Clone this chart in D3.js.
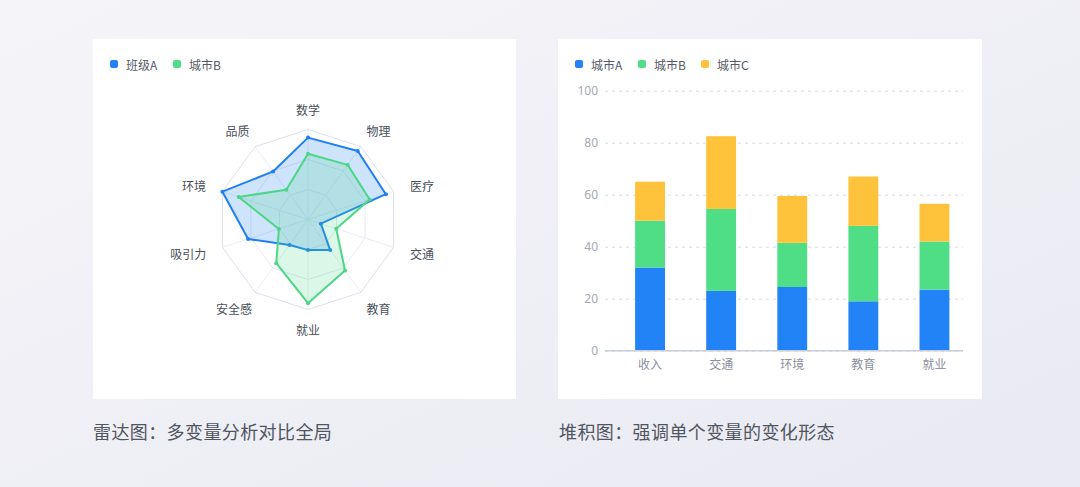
<!DOCTYPE html>
<html>
<head>
<meta charset="utf-8">
<script src="https://cdn.jsdelivr.net/npm/d3@7"></script>
<style>
  html, body { margin: 0; padding: 0; }
  body { width: 1080px; height: 487px; overflow: hidden; }
  text { font-family: "Noto Sans CJK SC", "Noto Sans", sans-serif; }
</style>
</head>
<body>
<svg id="chart" width="1080" height="487"></svg>
<script>
// radar data
const radarAxes = ['数学', '物理', '医疗', '交通', '教育', '就业', '安全感', '吸引力', '环境', '品质']
const radarSeriesNames = ['班级A', '城市B']
const classA = [91, 94, 91, 15, 42, 34, 35, 70, 100, 66]
const cityB = [73, 75, 72, 33, 70, 93, 60, 34, 81, 41]

// stacked bar data
const barCategories = ['收入', '交通', '环境', '教育', '就业']
const barSeriesNames = ['城市A', '城市B', '城市C']
const cityA = [32, 23, 24.5, 19, 23.5]
const cityBBar = [18, 31.5, 17, 29, 18.5]
const cityC = [15, 28, 18, 19, 14.5]
const yTicks = [0, 20, 40, 60, 80, 100]

const captions = ['雷达图：多变量分析对比全局', '堆积图：强调单个变量的变化形态']

const blue = '#2183f6', green = '#4fdd86', yellow = '#ffc23b'

const svg = d3.select('#chart')

// background
const defs = svg.append('defs')
const grad = defs.append('linearGradient').attr('id', 'bg')
    .attr('x1', '0').attr('y1', '0').attr('x2', '1').attr('y2', '1')
grad.append('stop').attr('offset', '0%').attr('stop-color', '#f5f5f9')
grad.append('stop').attr('offset', '100%').attr('stop-color', '#e9e9f2')
svg.append('rect').attr('width', 1080).attr('height', 487).attr('fill', 'url(#bg)')

// panels
svg.append('rect').attr('x', 93).attr('y', 39).attr('width', 423).attr('height', 360).attr('fill', '#fff')
svg.append('rect').attr('x', 558).attr('y', 39).attr('width', 424).attr('height', 360).attr('fill', '#fff')

svg.selectAll('text.caption')
    .data(captions)
    .enter()
    .append('text')
    .attr('class', 'caption')
    .attr('x', (d, i) => i === 0 ? 93 : 559)
    .attr('y', 431)
    .attr('dominant-baseline', 'central')
    .style('font-size', '18px')
    .style('letter-spacing', '0.4px')
    .style('fill', '#50555f')
    .text(d => d)

function legend(g, names, colors, xs) {
    const item = g.selectAll('g').data(names).enter().append('g')
        .attr('transform', (d, i) => 'translate(' + xs[i] + ',64)')
    item.append('rect')
        .attr('x', -4).attr('y', -4).attr('width', 8).attr('height', 8).attr('rx', 2)
        .style('fill', (d, i) => colors[i])
    item.append('text')
        .attr('x', 12).attr('dominant-baseline', 'central')
        .style('font-size', '12px').style('fill', '#555a66')
        .text(d => d)
}

// ---------- radar ----------
const cx = 308, cy = 219.5, R = 90
const n = radarAxes.length
const rScale = d3.scaleLinear().domain([0, 100]).range([0, R])
const angle = i => i * 2 * Math.PI / n
const radial = d3.lineRadial().angle((d, i) => angle(i)).radius(d => rScale(d)).curve(d3.curveLinearClosed)

const radar = svg.append('g').attr('transform', 'translate(' + cx + ',' + cy + ')')

// rings
const rings = [100 / 3, 200 / 3, 100]
radar.selectAll('path.ring')
    .data(rings)
    .enter()
    .append('path')
    .attr('class', 'ring')
    .attr('d', v => radial(radarAxes.map(() => v)))
    .style('fill', 'none')
    .style('stroke', (v, i) => i === 2 ? '#dbe0ed' : '#e6e9f2')
    .style('stroke-width', 1)

// spokes
radar.selectAll('line.spoke')
    .data(radarAxes)
    .enter()
    .append('line')
    .attr('x2', (d, i) => rScale(100) * Math.sin(angle(i)))
    .attr('y2', (d, i) => -rScale(100) * Math.cos(angle(i)))
    .style('stroke', '#eaedf4')
    .style('stroke-width', 1)

// axis names
const fontPx = 12
radar.selectAll('text.axisName')
    .data(radarAxes)
    .enter()
    .append('text')
    .attr('class', 'axisName')
    .attr('x', (d, i) => {
        const s = Math.sin(angle(i))
        return s * (R + 12) + s * (d.length * fontPx / 2 + 6)
    })
    .attr('y', (d, i) => {
        const c = Math.cos(angle(i))
        return -c * (R + 12) - c * 8
    })
    .attr('text-anchor', 'middle')
    .attr('dominant-baseline', 'central')
    .style('font-size', fontPx + 'px')
    .style('fill', '#4a4f5b')
    .text(d => d)

const series = [
    { name: radarSeriesNames[0], values: classA, color: '#1f7ff2', fill: 'rgba(33,126,242,0.22)' },
    { name: radarSeriesNames[1], values: cityB, color: '#4cd686', fill: 'rgba(76,214,134,0.2)' }
]

const sG = radar.selectAll('g.series').data(series).enter().append('g').attr('class', 'series')
sG.append('path')
    .attr('d', d => radial(d.values))
    .style('fill', d => d.fill)
    .style('stroke', d => d.color)
    .style('stroke-width', 2)
    .style('stroke-linejoin', 'round')
sG.selectAll('circle')
    .data(d => d.values.map(v => ({ v: v, color: d.color })))
    .enter()
    .append('circle')
    .attr('cx', (d, i) => rScale(d.v) * Math.sin(angle(i)))
    .attr('cy', (d, i) => -rScale(d.v) * Math.cos(angle(i)))
    .attr('r', 2)
    .style('fill', d => d.color)

legend(svg.append('g'), radarSeriesNames, [blue, green], [114, 177])

// ---------- stacked bars ----------
const y = d3.scaleLinear().domain([0, 100]).range([350.7, 90.7])
const x = d3.scaleBand().domain(barCategories).range([614.5, 970]).paddingInner(0.58).paddingOuter(0.29)
const gridX0 = 605, gridX1 = 963

const yAxis = svg.append('g')
    .attr('transform', 'translate(' + gridX0 + ',0)')
    .call(d3.axisLeft(y).tickValues(yTicks).tickSize(-(gridX1 - gridX0)).tickPadding(7))
yAxis.select('.domain').remove()
yAxis.selectAll('.tick line')
    .style('stroke', '#d8dbe3')
    .style('stroke-dasharray', '3,4')
yAxis.selectAll('.tick text')
    .style('font-size', '12px')
    .style('fill', '#a4a9b6')
    .style('font-family', '"Noto Sans", sans-serif')

const rows = barCategories.map((c, i) => ({ cat: c, A: cityA[i], B: cityBBar[i], C: cityC[i] }))
const stacked = d3.stack().keys(['A', 'B', 'C'])(rows)
const barColors = [blue, green, yellow]

svg.append('g').selectAll('g')
    .data(stacked)
    .enter()
    .append('g')
    .style('fill', (d, i) => barColors[i])
    .selectAll('rect')
    .data(d => d)
    .enter()
    .append('rect')
    .attr('x', d => x(d.data.cat))
    .attr('width', x.bandwidth())
    .attr('y', d => y(d[1]))
    .attr('height', d => y(d[0]) - y(d[1]))

svg.append('line')
    .attr('x1', gridX0).attr('x2', gridX1)
    .attr('y1', y(0)).attr('y2', y(0))
    .style('stroke', '#c9cdd7')
    .style('stroke-width', 1.5)

const xAxis = svg.append('g')
    .attr('transform', 'translate(0,' + y(0) + ')')
    .call(d3.axisBottom(x).tickSize(0).tickPadding(10))
xAxis.select('.domain').remove()
xAxis.selectAll('.tick text')
    .style('font-size', '12px')
    .style('fill', '#8a8f9c')
    .style('font-family', '"Noto Sans CJK SC", sans-serif')

legend(svg.append('g'), barSeriesNames, barColors, [579, 642, 705])
</script>
</body>
</html>
